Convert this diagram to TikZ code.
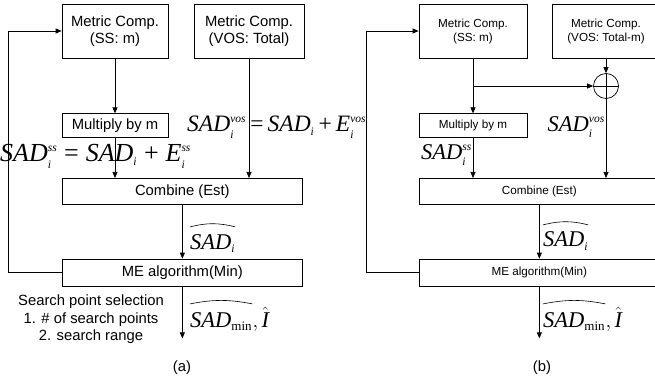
\documentclass[tikz,border=0pt]{standalone}
\usepackage{amsmath}
\usepackage{fontspec}
\setmainfont{Liberation Sans}
\newfontfamily\tnr{Liberation Serif}
\usetikzlibrary{positioning,arrows.meta,calc}
\tikzset{
  blk/.style={draw, line width=0.7pt, align=center, inner sep=0pt, font=\fontsize{14.8}{17}\selectfont},
  blks/.style={blk, font=\fontsize{11.7}{14}\selectfont},
  arr/.style={-{Triangle[length=6pt,width=5pt]}, line width=0.7pt},
  ln/.style={line width=0.7pt},
  eq/.style={inner sep=0pt, font=\fontsize{23.5}{26}\selectfont},
  eqbig/.style={inner sep=0pt, font=\fontsize{26}{28}\selectfont},
  lbl/.style={inner sep=0pt, font=\fontsize{22.5}{24}\selectfont},
  hatln/.style={line width=0.6pt},
}
\newcommand{\ti}[1]{\text{\tnr\itshape #1}}
\newcommand{\sx}[1]{\text{\tnr\itshape\fontsize{11.5}{12}\selectfont #1}}
\newcommand{\su}[1]{\text{\tnr\fontsize{13}{13}\selectfont #1}}
\newcommand{\teq}{\,\text{\tnr =}\,}
\newcommand{\tplus}{\,\text{\tnr +}\,}
\newcommand{\weq}{\;\text{\tnr =}\;}
\newcommand{\wplus}{\;\text{\tnr +}\;}

\begin{document}
\begin{tikzpicture}[x=1pt,y=-1pt]
\useasboundingbox (0,0) rectangle (655,379);
\clip (0,0) rectangle (655,379);
% (a): SS + VOS
\node[blk, minimum width=106pt, minimum height=54pt] (ssA) at (115,31) {Metric Comp.\\(SS: m)};
\node[blk, minimum width=110pt, minimum height=54pt] (vosA) at (249,31) {Metric Comp.\\(VOS: Total)};
\node[blk, minimum width=106pt, minimum height=24pt, below=55pt of ssA] (mulA) {Multiply by m};
\node[blk, minimum width=240pt, minimum height=26pt, anchor=north west] (combA) at (62,178) {Combine (Est)};
\node[blk, minimum width=240pt, minimum height=27pt, below=54pt of combA] (meA) {ME algorithm(Min)};
\coordinate (outA) at ($(meA.south)+(0,52)$);
\coordinate (fbA) at (8,0);
% (a): arrows
\draw[arr] (ssA) -- (mulA);
\draw[arr] (mulA) -- (mulA.south |- combA.north);
\draw[arr] (vosA) -- (vosA.south |- combA.north);
\draw[arr] (combA) -- (meA);
\draw[arr] (meA) -- (outA);
\draw[arr] (meA.west) -- (meA.west -| fbA) |- (ssA.west);
% (a): labels
\node[eqbig, anchor=base west] (eqssA) at (0,162) {$\ti{SAD}_{\sx{i}}^{\sx{ss}}\weq\ti{SAD}_{\sx{i}}\wplus\ti{E}_{\sx{i}}^{\sx{ss}}$};
\node[eq, anchor=base west] (eqvosA) at (187,132) {$\ti{SAD}_{\sx{i}}^{\sx{vos}}\teq\ti{SAD}_{\sx{i}}\tplus\ti{E}_{\sx{i}}^{\sx{vos}}$};
\node[lbl, anchor=base west] (hsA) at (190,249) {$\ti{SAD}_{\sx{i}}$};
\node[lbl, anchor=base west] (hmA) at (190,327) {$\ti{SAD}_{\su{min}}$};
\node[lbl, anchor=base west] (iA) at (hmA.base east) {$,\hat{\ti{I}}$};
\draw[hatln] ($(hsA.north west)+(0,-7)$) to[bend left=14] ($(hsA.north east)+(0,-7)$);
\draw[hatln] ($(hmA.north west)+(0,-8)$) to[bend left=11] ($(hmA.north east)+(0,-8)$);
\node[align=center, inner sep=0pt, anchor=north, font=\fontsize{14.8}{17.5}\selectfont] (spA) at (91,295) {Search point selection\\1. \# of search points\\2. search range};
\node[font=\fontsize{14.8}{17}\selectfont] (capA) at (182,368) {(a)};

% (b): SS + VOS(Total-m)
\node[blks, minimum width=108pt, minimum height=54pt] (ssB) at (473,31) {Metric Comp.\\(SS: m)};
\node[blks, minimum width=108pt, minimum height=54pt] (vosB) at (606,31) {Metric Comp.\\(VOS: Total-m)};
\node[circle, draw, ln, minimum size=25pt, inner sep=0pt] (sumB) at (606,86) {};
\node[blks, minimum width=108pt, minimum height=24pt, below=55pt of ssB] (mulB) {Multiply by m};
\node[blks, minimum width=240pt, minimum height=26pt, anchor=north west] (combB) at (419,178) {Combine (Est)};
\node[blks, minimum width=240pt, minimum height=27pt, below=54pt of combB] (meB) {ME algorithm(Min)};
\coordinate (splitB) at (ssB.south |- sumB.west);
\coordinate (outB) at ($(meB.south)+(0,52)$);
\coordinate (fbB) at (366,0);
% (b): arrows
\draw[arr] (ssB) -- (mulB);
\draw[arr] (splitB) -- (sumB.west);
\draw[arr] (vosB) -- (sumB.north);
\draw[ln] (sumB.west) -- (sumB.east) (sumB.north) -- (sumB.south);
\draw[arr] (sumB.south) -- (sumB.south |- combB.north);
\draw[arr] (mulB) -- (mulB.south |- combB.north);
\draw[arr] (combB) -- (meB);
\draw[arr] (meB) -- (outB);
\draw[arr] (meB.west) -- (meB.west -| fbB) |- (ssB.west);
% (b): labels
\node[lbl, anchor=base east] (ssLB) at (472,160) {$\ti{SAD}_{\sx{i}}^{\sx{ss}}$};
\node[lbl, anchor=base east] (vosLB) at (605,132) {$\ti{SAD}_{\sx{i}}^{\sx{vos}}$};
\node[lbl, anchor=base west] (hsB) at (543,247) {$\ti{SAD}_{\sx{i}}$};
\node[lbl, anchor=base west] (hmB) at (543,327) {$\ti{SAD}_{\su{min}}$};
\node[lbl, anchor=base west] (iB) at (hmB.base east) {$,\hat{\ti{I}}$};
\draw[hatln] ($(hsB.north west)+(0,-7)$) to[bend left=14] ($(hsB.north east)+(0,-7)$);
\draw[hatln] ($(hmB.north west)+(0,-8)$) to[bend left=11] ($(hmB.north east)+(0,-8)$);
\node[font=\fontsize{14.8}{17}\selectfont] (capB) at (542,368) {(b)};
\end{tikzpicture}
\end{document}
